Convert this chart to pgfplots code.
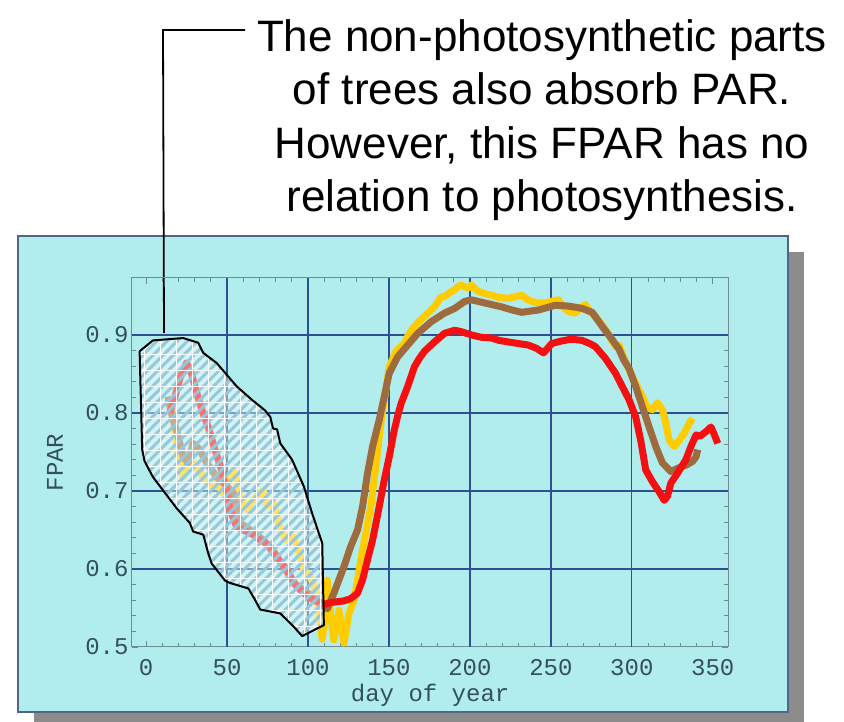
\documentclass[border=0pt]{standalone}
\usepackage{fontspec}
\setmainfont{Liberation Sans}
\newfontfamily\courier{Liberation Mono}
\usepackage{pgfplots}
\pgfplotsset{compat=1.18}
\usepackage{pgfplotstable}
\usetikzlibrary{patterns.meta}

\definecolor{panelcyan}{HTML}{B2EDEE}
\definecolor{panelborder}{HTML}{54638A}
\definecolor{shadowgray}{HTML}{8C8C8C}
\definecolor{gridblue}{HTML}{2F4F93}
\definecolor{axisgray}{HTML}{6E8D92}
\definecolor{labelgray}{HTML}{34505A}
\definecolor{fred}{HTML}{F41010}
\definecolor{fbrown}{HTML}{9E6B3E}
\definecolor{fyellow}{HTML}{FFCC00}
\definecolor{hatchblue}{HTML}{93C9DA}

% day of year, FPAR
\pgfplotstableread{
x y
14.6 0.800
18 0.822
21 0.845
25 0.864
28 0.851
30.5 0.832
33.2 0.812
36 0.795
38.4 0.782
42.5 0.753
46.7 0.727
49.8 0.701
51.9 0.676
54 0.664
56 0.654
60 0.650
64.3 0.646
67 0.643
70.5 0.637
73.5 0.634
76.7 0.629
81.9 0.612
87.1 0.599
91.2 0.582
97.4 0.569
101 0.563
105.7 0.558
110.9 0.555
114 0.557
118.1 0.558
122 0.559
126.4 0.562
130.6 0.569
133.7 0.586
136.8 0.612
139.9 0.637
142 0.659
144 0.680
147.1 0.714
150.2 0.744
153.3 0.778
155.5 0.797
157.5 0.812
161.6 0.834
165.7 0.859
168.5 0.869
171.9 0.879
178.1 0.891
184.3 0.902
190.6 0.906
195 0.904
201 0.900
207 0.897
213.4 0.896
218 0.893
223.7 0.891
230 0.889
236.1 0.887
241 0.883
245.5 0.877
250.6 0.889
256 0.892
261 0.894
265 0.894
269.3 0.893
274 0.889
277.5 0.885
283.7 0.870
289.9 0.851
294.1 0.834
298.3 0.817
302.4 0.795
305.5 0.765
308.6 0.727
312.7 0.712
316.9 0.699
320 0.688
322 0.693
324.1 0.710
328.3 0.723
333.4 0.740
336.5 0.757
339.7 0.772
342 0.770
345.8 0.776
348.9 0.782
351 0.772
353.1 0.761
}\redtab

\pgfplotstableread{
x y
13.5 0.821
15.6 0.800
19.8 0.770
22.9 0.744
26 0.736
29.1 0.761
33.2 0.753
37.4 0.736
43.6 0.718
49.8 0.706
53.9 0.697
56 0.680
58.1 0.659
64.3 0.650
72.5 0.637
78.8 0.620
85 0.603
91.2 0.582
97.4 0.573
105.7 0.560
109.8 0.552
112 0.549
116 0.569
122.2 0.603
126.4 0.629
130.6 0.650
133.7 0.680
136.8 0.723
139.9 0.757
144 0.791
147.1 0.821
150.2 0.851
155.4 0.872
161.6 0.887
167.8 0.902
176.1 0.917
184.3 0.928
190.6 0.934
196.8 0.943
200.9 0.945
209.2 0.941
219.6 0.936
226 0.932
232 0.929
242.4 0.932
252.7 0.938
261 0.937
269.3 0.934
275.5 0.929
281.7 0.911
287.9 0.894
292 0.882
295 0.868
298.3 0.857
302.4 0.834
306.5 0.808
310.7 0.782
314.8 0.757
318.9 0.736
324.1 0.725
328.3 0.729
333.4 0.733
337.6 0.738
339.7 0.744
340.7 0.753
}\browntab

\pgfplotstableread{
x y
14.6 0.821
17 0.790
19.5 0.750
21.9 0.727
22.9 0.718
25 0.733
27 0.740
29 0.735
31.2 0.731
35.3 0.718
39.4 0.706
43.6 0.710
47.7 0.697
50 0.708
51.9 0.718
55 0.723
58.1 0.693
62.2 0.676
65 0.686
68.4 0.693
72.5 0.701
74.7 0.680
78.8 0.684
82.9 0.650
87.1 0.637
91.2 0.641
95.3 0.616
97.4 0.599
101.6 0.590
104.7 0.573
106.7 0.547
108.8 0.510
110 0.530
111.9 0.586
114 0.540
116 0.509
119.1 0.547
122.2 0.505
125.3 0.543
128.4 0.560
130.6 0.586
132.6 0.612
135.7 0.646
138.8 0.680
141.9 0.731
145 0.787
148.1 0.830
150.2 0.859
154.3 0.879
159.5 0.889
162 0.900
165.7 0.911
171.9 0.924
178.1 0.936
182.3 0.949
184.3 0.949
188 0.955
190.6 0.958
192.7 0.962
194.7 0.964
198.8 0.960
200.9 0.964
205.1 0.956
209 0.953
213.4 0.951
218 0.948
223.7 0.947
228 0.949
232 0.951
235 0.946
238.2 0.943
242 0.941
246.5 0.941
250 0.943
254.8 0.945
258 0.935
261 0.930
265.1 0.928
268 0.934
271.4 0.939
274 0.930
277.6 0.924
283.7 0.907
289.9 0.885
292 0.887
298.3 0.855
302.4 0.838
306.5 0.821
309.3 0.808
312.7 0.804
315.8 0.813
318.9 0.804
321 0.787
323.1 0.765
326.2 0.757
329.3 0.765
332.4 0.774
335.5 0.787
337.6 0.793
}\yellowtab

% outline of the hatched region
\pgfplotstableread{
x y
-4.0 0.879
4.2 0.893
22.9 0.896
32.2 0.890
35.3 0.877
43.6 0.864
56.0 0.834
65.3 0.817
73.6 0.803
76.7 0.795
78.4 0.780
80.9 0.779
82.9 0.761
90.2 0.740
97.4 0.706
102.6 0.671
108.8 0.633
109.8 0.528
96.4 0.514
91.2 0.526
82.9 0.543
70.5 0.548
67.4 0.560
63.2 0.575
51.9 0.582
48.8 0.585
40.5 0.607
38.4 0.620
35.3 0.644
29.1 0.648
27.0 0.659
18.8 0.678
10.4 0.701
4.2 0.718
-0.9 0.738
-2.4 0.753
-4.0 0.879
}\polytab

\begin{document}
\begin{tikzpicture}[x=1pt,y=1pt]
\clip (0,0) rectangle (844,722);
\fill[shadowgray] (34,-10) rectangle (804,470);
\filldraw[fill=panelcyan, draw=panelborder, line width=2.5pt] (18,10) rectangle (788,486);
\node[align=center, font=\fontsize{44}{53.5}\selectfont, inner sep=0pt] at (542,602)
  {The non-photosynthetic parts\\of trees also absorb PAR.\\However, this FPAR has no\\relation to photosynthesis.};
\draw[line width=1.8pt] (245,692) -- (163,692) -- (164,389);

\begin{axis}[
  at={(132pt,75pt)}, anchor=south west,
  scale only axis, width=596.3pt, height=369pt,
  xmin=-8.7, xmax=359.6, ymin=0.5, ymax=0.973,
  xtick={0,50,...,350}, xticklabels={0,50,100,150,200,250,300,350},
  ytick={0.5,0.6,0.7,0.8,0.9}, yticklabels={0.5,0.6,0.7,0.8,0.9},
  minor x tick num=4, minor y tick num=4,
  tick align=inside, tick pos=both,
  major tick length=6pt, minor tick length=4pt,
  extra x ticks={50,100,...,300}, extra x tick labels={},
  extra y ticks={0.6,0.7,0.8,0.9}, extra y tick labels={},
  extra tick style={grid=major, major tick length=0pt},
  grid style={draw=gridblue, line width=1.3pt},
  axis line style={draw=axisgray, line width=1pt},
  tick style={draw=axisgray, line width=0.8pt},
  ticklabel style={font=\courier\fontsize{24}{24}\selectfont, text=labelgray},
  label style={font=\courier\fontsize{24}{24}\selectfont, text=labelgray},
  xticklabel style={anchor=center, yshift=-21pt},
  xlabel={day of year},
  xlabel style={at={(axis description cs:0.5,0)}, anchor=center, yshift=-48pt},
  ylabel={FPAR},
  ylabel style={at={(axis description cs:-0.129,0.5)}, anchor=center},
]
\addplot[no markers, line width=7pt, color=fyellow, line join=round] table {\yellowtab};
\addplot[no markers, line width=7pt, color=fbrown, line join=round] table {\browntab};
\addplot[no markers, line width=7pt, color=fred, line join=round] table {\redtab};
\addplot[no markers, draw=none, fill=white, fill opacity=0.42] table {\polytab};
\addplot[no markers, draw=none, fill opacity=0.75, pattern={Lines[angle=45,distance=7.2pt,line width=3pt]}, pattern color=hatchblue] table {\polytab};
\addplot[no markers, draw=none, fill opacity=0.6, pattern={Hatch[angle=0,distance=16pt,line width=0.6pt]}, pattern color=white] table {\polytab};
\addplot[no markers, draw=black, line width=2pt, line join=round] table {\polytab};
\end{axis}
\end{tikzpicture}
\end{document}
